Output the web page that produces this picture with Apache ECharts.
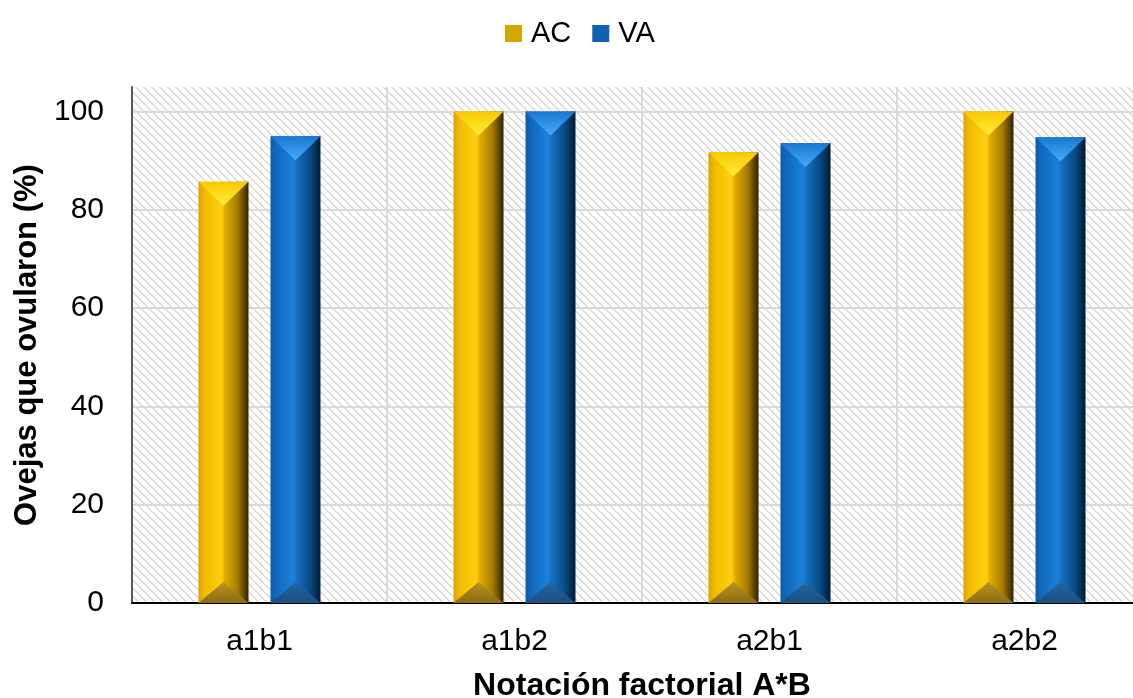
<!DOCTYPE html>
<html>
<head>
<meta charset="utf-8">
<script src="https://cdn.jsdelivr.net/npm/echarts@6/dist/echarts.min.js"></script>
<style>html,body{margin:0;padding:0;background:#fff;}#chart{width:1133px;height:698px;}</style>
</head>
<body>
<div id="chart"></div>
<script>
var categories = ['a1b1', 'a1b2', 'a2b1', 'a2b2'];
var acValues = [85.7, 100, 91.7, 100];
var vaValues = [95, 100, 93.6, 94.8];
var yTicks = [0, 20, 40, 60, 80, 100];
var seriesNames = ['AC', 'VA'];

var FONT = '"Liberation Sans", Arial, sans-serif';

// hatch pattern
var pc = document.createElement('canvas');
pc.width = 8; pc.height = 8;
var pctx = pc.getContext('2d');
pctx.fillStyle = '#ffffff';
pctx.fillRect(0, 0, 8, 8);
pctx.fillStyle = '#dadada';
for (var i = 0; i < 8; i++) {
  pctx.fillRect(i, i, 1, 1);
  pctx.fillRect((i + 1) % 8, i, 1, 1);
}

var palettes = {
  AC: {
    face: [[0, '#d9a300'], [0.12, '#f2bb00'], [0.45, '#ffcf10'], [0.5, '#f0be00'], [0.52, '#e3ae00'], [0.78, '#a67c00'], [1, '#2e2300']],
    top: [[0, '#f7c800'], [1, '#fff03a']],
    bottom: [[0, '#8c6c10'], [1, '#b89224']],
    legend: '#d4a600'
  },
  VA: {
    face: [[0, '#0a5cab'], [0.12, '#1168bd'], [0.45, '#1a82da'], [0.5, '#1678cc'], [0.52, '#146fbe'], [0.78, '#0b4b88'], [1, '#021a33']],
    top: [[0, '#1a78cf'], [1, '#45aaff']],
    bottom: [[0, '#1a4f80'], [1, '#2366a3']],
    legend: '#0f62b0'
  }
};

function grad(x1, y1, x2, y2, stops) {
  return new echarts.graphic.LinearGradient(x1, y1, x2, y2, stops.map(function (s) { return { offset: s[0], color: s[1] }; }));
}

function makeRender(pal, side) {
  return function (params, api) {
    var idx = api.value(0);
    var val = api.value(1);
    var band = api.size([1, 0])[0];
    var p0 = api.coord([idx, 0]);
    var p1 = api.coord([idx, val]);
    var w = band * 50 / 255;
    var off = band * 36 / 255 * side;
    var cx = p0[0] + off;
    var l = cx - w / 2, r = cx + w / 2, t = p1[1], b = p0[1];
    var dTop = w * 0.48, dBot = w * 0.42;
    return {
      type: 'group',
      children: [
        { type: 'rect', shape: { x: l, y: t, width: w, height: b - t }, style: { fill: grad(0, 0, 1, 0, pal.face) } },
        { type: 'polygon', shape: { points: [[l, t], [r, t], [cx, t + dTop]] }, style: { fill: grad(0, 0, 0, 1, pal.top) } },
        { type: 'polygon', shape: { points: [[l, b], [r, b], [cx, b - dBot]] }, style: { fill: grad(0, 1, 0, 0, pal.bottom) } }
      ]
    };
  };
}

var chart = echarts.init(document.getElementById('chart'), null, { renderer: 'canvas' });
var option = {
  animation: false,
  backgroundColor: '#ffffff',
  legend: {
    top: 14,
    left: 500,
    icon: 'rect',
    itemWidth: 17,
    itemHeight: 17,
    itemGap: 21,
    textStyle: { fontFamily: FONT, fontSize: 29, color: '#000', padding: [0, 0, 0, 4] },
    data: seriesNames
  },
  grid: {
    left: 132, top: 87, width: 1020, height: 516,
    outerBoundsMode: 'none', containLabel: false,
    show: true, borderWidth: 0, backgroundColor: { image: pc, repeat: 'repeat' }
  },
  xAxis: {
    type: 'category',
    data: categories,
    name: 'Notación factorial A*B',
    nameLocation: 'middle',
    nameGap: 67,
    nameTextStyle: { fontFamily: FONT, fontSize: 32, fontWeight: 'bold', color: '#000' },
    axisLine: { show: true, lineStyle: { color: '#000', width: 2 } },
    axisTick: { show: false },
    axisLabel: { fontFamily: FONT, fontSize: 30, color: '#000', margin: 24 },
    splitLine: { show: true, lineStyle: { color: '#d9d9d9', width: 2 } }
  },
  yAxis: {
    type: 'value',
    min: 0,
    max: 105,
    interval: 20,
    name: 'Ovejas que ovularon (%)',
    nameLocation: 'middle',
    nameGap: 88,
    nameTextStyle: { fontFamily: FONT, fontSize: 31, fontWeight: 'bold', color: '#000' },
    axisLine: { show: true, lineStyle: { color: '#595959', width: 2 } },
    axisTick: { show: false },
    axisLabel: {
      fontFamily: FONT, fontSize: 30, color: '#000', margin: 28,
      formatter: function (v) { return yTicks.indexOf(v) >= 0 ? String(v) : ''; }
    },
    splitLine: { show: true, showMinLine: false, showMaxLine: false, lineStyle: { color: '#d9d9d9', width: 2 } }
  },
  series: [
    {
      name: 'AC', type: 'custom',
      itemStyle: { color: palettes.AC.legend },
      renderItem: makeRender(palettes.AC, -1),
      encode: { x: 0, y: 1 },
      data: acValues.map(function (v, i) { return [i, v]; })
    },
    {
      name: 'VA', type: 'custom',
      itemStyle: { color: palettes.VA.legend },
      renderItem: makeRender(palettes.VA, 1),
      encode: { x: 0, y: 1 },
      data: vaValues.map(function (v, i) { return [i, v]; })
    }
  ]
};
chart.setOption(option);
</script>
</body>
</html>
